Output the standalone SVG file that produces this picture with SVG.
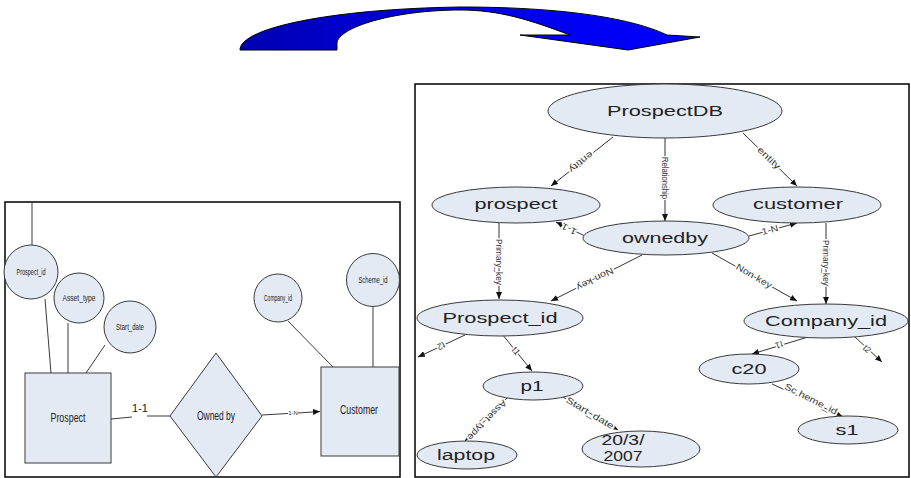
<svg xmlns="http://www.w3.org/2000/svg" width="911" height="478" viewBox="0 0 911 478">
  <style>
    .frame { fill: #fff; stroke: #000; stroke-width: 1.5; }
    .shape { fill: #e4eaf4; stroke: #3a3a3a; stroke-width: 1; }
    .wire { fill: none; stroke: #3a3a3a; stroke-width: 1; }
    .edge { fill: none; stroke: #333; stroke-width: 1; marker-end: url(#tip); }
    .er { font-family: "Liberation Sans Narrow", "Liberation Sans", Arial, sans-serif; fill: #222; text-anchor: middle; }
    .node { font-family: "Liberation Sans", Arial, sans-serif; font-size: 14px; fill: #222; text-anchor: middle; }
    .lbl { font-family: "Liberation Sans", Arial, sans-serif; font-size: 9px; fill: #333; text-anchor: middle;
           paint-order: stroke; stroke: #fff; stroke-width: 3px; stroke-linejoin: round; }
  </style>
  <defs>
    <linearGradient id="arcFill" gradientUnits="userSpaceOnUse" x1="240" y1="0" x2="700" y2="0">
      <stop offset="0" stop-color="#0000b0"/>
      <stop offset="0.45" stop-color="#0000e6"/>
      <stop offset="1" stop-color="#0000ff"/>
    </linearGradient>
    <marker id="tip" markerUnits="userSpaceOnUse" markerWidth="7" markerHeight="6" refX="7" refY="3" orient="auto">
      <path d="M0,0 L7,3 L0,6 z" fill="#111"/>
    </marker>
  </defs>

  <!-- curved transition arrow -->
  <path id="transition" d="M240,50 C240,28 330,9 460,7 C580,7 640,22 667,35 L700,37 L628,50 L520,35 L570,35 C530,20 500,10 460,10 C400,10 342,25 337,42 L337,50 Z"
        fill="url(#arcFill)" stroke="#000" stroke-width="1"/>

  <!-- ================= ER model panel ================= -->
  <rect class="frame" x="5" y="202" width="395" height="275"/>
  <g id="er-connectors">
    <line class="wire" x1="32" y1="202" x2="32" y2="245"/>
    <line class="wire" x1="45" y1="299" x2="51" y2="373"/>
    <line class="wire" x1="68" y1="323" x2="68" y2="373"/>
    <line class="wire" x1="105" y1="345" x2="86" y2="373"/>
    <line class="wire" x1="288" y1="321" x2="333" y2="367"/>
    <line class="wire" x1="373" y1="307" x2="373" y2="367"/>
    <line class="wire" x1="111" y1="419" x2="132" y2="417"/>
    <line class="wire" x1="147" y1="416" x2="170" y2="416"/>
    <text class="er" x="140" y="412" font-size="11">1-1</text>
    <line class="wire" x1="262" y1="415" x2="288" y2="413.5"/>
    <line class="wire" x1="298" y1="413" x2="320" y2="411.5" marker-end="url(#tip)"/>
    <text class="er" x="293" y="415" font-size="6">1-N</text>
  </g>
  <g id="er-prospect-id">
    <circle class="shape" cx="31" cy="272" r="27"/>
    <text class="er" x="31" y="275" font-size="9" textLength="29" lengthAdjust="spacingAndGlyphs">Prospect_id</text>
  </g>
  <g id="er-asset-type">
    <circle class="shape" cx="79" cy="298" r="25"/>
    <text class="er" x="79" y="301" font-size="9" textLength="33" lengthAdjust="spacingAndGlyphs">Asset_type</text>
  </g>
  <g id="er-start-date">
    <circle class="shape" cx="130" cy="327" r="26"/>
    <text class="er" x="130" y="330" font-size="9" textLength="28" lengthAdjust="spacingAndGlyphs">Start_date</text>
  </g>
  <g id="er-company-id">
    <circle class="shape" cx="278" cy="298" r="24"/>
    <text class="er" x="278" y="301" font-size="9" textLength="28" lengthAdjust="spacingAndGlyphs">Company_id</text>
  </g>
  <g id="er-scheme-id">
    <circle class="shape" cx="373" cy="280" r="26.5"/>
    <text class="er" x="373" y="283" font-size="9" textLength="29" lengthAdjust="spacingAndGlyphs">Scheme_id</text>
  </g>
  <g id="er-prospect">
    <rect class="shape" x="25" y="373" width="86" height="90"/>
    <text class="er" x="68" y="422" font-size="12" textLength="35" lengthAdjust="spacingAndGlyphs">Prospect</text>
  </g>
  <g id="er-owned-by">
    <polygon class="shape" points="170,416 216,353 262,416 216,477"/>
    <text class="er" x="216" y="420" font-size="12" textLength="38" lengthAdjust="spacingAndGlyphs">Owned by</text>
  </g>
  <g id="er-customer">
    <rect class="shape" x="321" y="367" width="78" height="89"/>
    <text class="er" x="359" y="414" font-size="12" textLength="38" lengthAdjust="spacingAndGlyphs">Customer</text>
  </g>

  <!-- ================= graph model panel ================= -->
  <rect class="frame" x="415" y="84" width="494" height="393"/>
  <g id="graph-edges">
    <line class="edge" x1="613" y1="137" x2="551" y2="186"/>
    <text class="lbl" transform="translate(581,162) rotate(142)" dy="3" textLength="28" lengthAdjust="spacingAndGlyphs">entity</text>
    <line class="edge" x1="743" y1="133" x2="797" y2="186"/>
    <text class="lbl" transform="translate(769,158) rotate(44)" dy="3" textLength="28" lengthAdjust="spacingAndGlyphs">entity</text>
    <line class="edge" x1="665" y1="138" x2="665" y2="221"/>
    <text class="lbl" transform="translate(665,178) rotate(90)" dy="3" textLength="42" lengthAdjust="spacingAndGlyphs">Relationship</text>
    <line class="edge" x1="499" y1="223" x2="499" y2="299"/>
    <text class="lbl" transform="translate(499,262) rotate(90)" dy="3" textLength="46" lengthAdjust="spacingAndGlyphs">Primary_key</text>
    <line class="edge" x1="826" y1="223" x2="826" y2="304"/>
    <text class="lbl" transform="translate(826,263) rotate(90)" dy="3" textLength="46" lengthAdjust="spacingAndGlyphs">Primary_key</text>
    <line class="edge" x1="585" y1="236" x2="556" y2="222"/>
    <text class="lbl" transform="translate(569,229) rotate(206)" dy="3" textLength="16" lengthAdjust="spacingAndGlyphs">1-1</text>
    <line class="edge" x1="749" y1="236" x2="797" y2="223"/>
    <text class="lbl" transform="translate(770,230) rotate(-15)" dy="3" textLength="17" lengthAdjust="spacingAndGlyphs">1-N</text>
    <line class="edge" x1="642" y1="255" x2="551" y2="301"/>
    <text class="lbl" transform="translate(595,279) rotate(153)" dy="3" textLength="40" lengthAdjust="spacingAndGlyphs">Non-key</text>
    <line class="edge" x1="712" y1="253" x2="797" y2="301"/>
    <text class="lbl" transform="translate(754,276) rotate(30)" dy="3" textLength="40" lengthAdjust="spacingAndGlyphs">Non-key</text>
    <line class="edge" x1="465" y1="335" x2="418" y2="357"/>
    <text class="lbl" transform="translate(441,346) rotate(155)" dy="3">t2</text>
    <line class="edge" x1="502" y1="334" x2="532" y2="371"/>
    <text class="lbl" transform="translate(516,351) rotate(51)" dy="3">t1</text>
    <line class="edge" x1="808" y1="337" x2="752" y2="354"/>
    <text class="lbl" transform="translate(779,345) rotate(163)" dy="3">t1</text>
    <line class="edge" x1="855" y1="337" x2="882" y2="362"/>
    <text class="lbl" transform="translate(867,349) rotate(43)" dy="3">t2</text>
    <line class="edge" x1="507" y1="398" x2="465" y2="441"/>
    <text class="lbl" transform="translate(487,420) rotate(134)" dy="3" textLength="52" lengthAdjust="spacingAndGlyphs">Asset_type</text>
    <line class="edge" x1="563" y1="397" x2="618" y2="430"/>
    <text class="lbl" transform="translate(590,413) rotate(31)" dy="3" textLength="54" lengthAdjust="spacingAndGlyphs">Start_date</text>
    <line class="edge" x1="772" y1="384" x2="842" y2="416"/>
    <text class="lbl" transform="translate(811,399) rotate(27)" dy="3" textLength="58" lengthAdjust="spacingAndGlyphs">Sc heme_id</text>
  </g>
  <g id="prospectdb">
    <ellipse class="shape" cx="665" cy="111" rx="117" ry="27"/>
    <text class="node" x="665" y="116" textLength="116" lengthAdjust="spacingAndGlyphs">ProspectDB</text>
  </g>
  <g id="prospect">
    <ellipse class="shape" cx="516" cy="205" rx="84" ry="18"/>
    <text class="node" x="516" y="209" textLength="83" lengthAdjust="spacingAndGlyphs">prospect</text>
  </g>
  <g id="customer">
    <ellipse class="shape" cx="797" cy="205" rx="84" ry="18"/>
    <text class="node" x="798" y="209" textLength="90" lengthAdjust="spacingAndGlyphs">customer</text>
  </g>
  <g id="ownedby">
    <ellipse class="shape" cx="666" cy="238" rx="83" ry="17"/>
    <text class="node" x="665" y="243" textLength="86" lengthAdjust="spacingAndGlyphs">ownedby</text>
  </g>
  <g id="prospect-id">
    <ellipse class="shape" cx="500" cy="318" rx="83" ry="18"/>
    <text class="node" x="500" y="323" textLength="115" lengthAdjust="spacingAndGlyphs">Prospect_id</text>
  </g>
  <g id="company-id">
    <ellipse class="shape" cx="826" cy="321" rx="82" ry="17"/>
    <text class="node" x="826" y="326" textLength="122" lengthAdjust="spacingAndGlyphs">Company_id</text>
  </g>
  <g id="p1">
    <ellipse class="shape" cx="533" cy="386" rx="50" ry="14"/>
    <text class="node" x="532" y="391" textLength="23" lengthAdjust="spacingAndGlyphs">p1</text>
  </g>
  <g id="laptop">
    <ellipse class="shape" cx="467" cy="455" rx="50" ry="14"/>
    <text class="node" x="466" y="460" textLength="58" lengthAdjust="spacingAndGlyphs">laptop</text>
  </g>
  <g id="date-20-3-2007">
    <ellipse class="shape" cx="641" cy="449" rx="59" ry="18"/>
    <text class="node" x="623" y="445" font-size="13" text-anchor="start" textLength="43" lengthAdjust="spacingAndGlyphs">20/3/</text>
    <text class="node" x="623" y="461" font-size="13" text-anchor="start" textLength="39" lengthAdjust="spacingAndGlyphs">2007</text>
  </g>
  <g id="c20">
    <ellipse class="shape" cx="749" cy="369" rx="50" ry="15"/>
    <text class="node" x="749" y="374" textLength="35" lengthAdjust="spacingAndGlyphs">c20</text>
  </g>
  <g id="s1">
    <ellipse class="shape" cx="848" cy="430" rx="50" ry="14"/>
    <text class="node" x="847" y="435" textLength="23" lengthAdjust="spacingAndGlyphs">s1</text>
  </g>
</svg>
